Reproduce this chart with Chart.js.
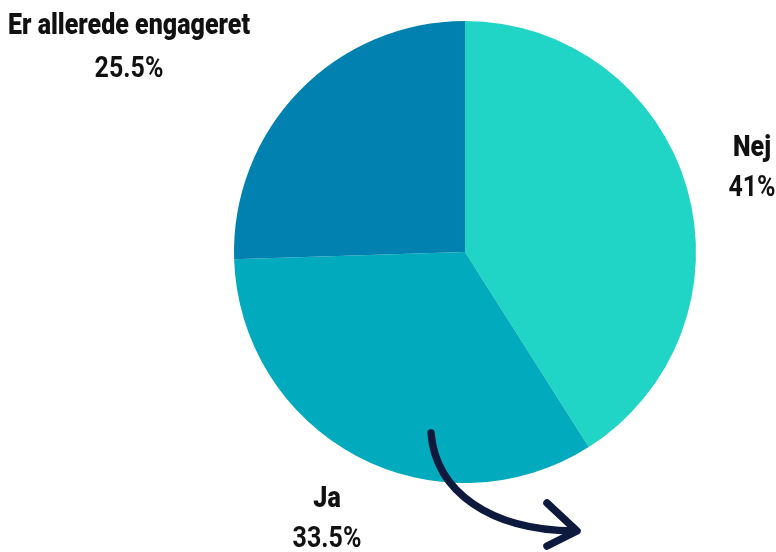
<!DOCTYPE html>
<html>
<head>
<meta charset="utf-8">
<script src="https://cdn.jsdelivr.net/npm/chart.js@4"></script>
<style>
  html, body { margin: 0; padding: 0; background: #fff; }
  #wrap { width: 776px; height: 552px; }
</style>
</head>
<body>
<div id="wrap"><canvas id="myChart" width="776" height="552"></canvas></div>
<script>
// data
const labels = ["Nej", "Ja", "Er allerede engageret"];
const values = [41, 33.5, 25.5];
const colors = ["#21d5c6", "#01abbd", "#0181b0"];
// label text positions (center x, name line y, value line y)
const labelPos = [[752, 148, 188], [327, 499, 539], [129, 26, 69]];

const FONT = "Roboto, 'Noto Sans', sans-serif";

// draws text squeezed horizontally to look like a condensed face
function condensedText(ctx, text, x, y, sx) {
  ctx.save();
  ctx.translate(x, y);
  ctx.scale(sx, 1);
  ctx.fillText(text, 0, 0);
  ctx.restore();
}

const textPlugin = {
  id: "textPlugin",
  afterDraw(chart) {
    const ctx = chart.ctx;
    ctx.save();
    ctx.fillStyle = "#111";
    ctx.textAlign = "center";
    ctx.textBaseline = "middle";
    ctx.font = "900 30px " + FONT;
    const sx = 242 / ctx.measureText(labels[2]).width;
    for (let i = 0; i < labels.length; i++) {
      const [x, y1, y2] = labelPos[i];
      ctx.font = "900 30px " + FONT;
      condensedText(ctx, labels[i], x, y1, sx);
      ctx.font = "bold 30px " + FONT;
      condensedText(ctx, values[i] + "%", x, y2, sx);
    }

    // curved arrow
    ctx.strokeStyle = "#0d1a3d";
    ctx.lineWidth = 7.5;
    ctx.lineCap = "round";
    ctx.lineJoin = "round";
    ctx.beginPath();
    ctx.moveTo(431, 433);
    ctx.bezierCurveTo(436, 492, 490, 530, 574, 531);
    ctx.stroke();
    ctx.beginPath();
    ctx.moveTo(547, 503);
    ctx.lineTo(577, 531);
    ctx.lineTo(547, 546);
    ctx.stroke();
    ctx.restore();
  }
};

new Chart(document.getElementById("myChart").getContext("2d"), {
  type: "pie",
  data: {
    labels: labels,
    datasets: [{
      data: values,
      backgroundColor: colors,
      borderWidth: 0
    }]
  },
  options: {
    responsive: false,
    animation: false,
    layout: { padding: { left: 234, right: 80, top: 21, bottom: 69 } },
    plugins: {
      legend: { display: false },
      tooltip: { enabled: false }
    }
  },
  plugins: [textPlugin]
});
</script>
</body>
</html>
